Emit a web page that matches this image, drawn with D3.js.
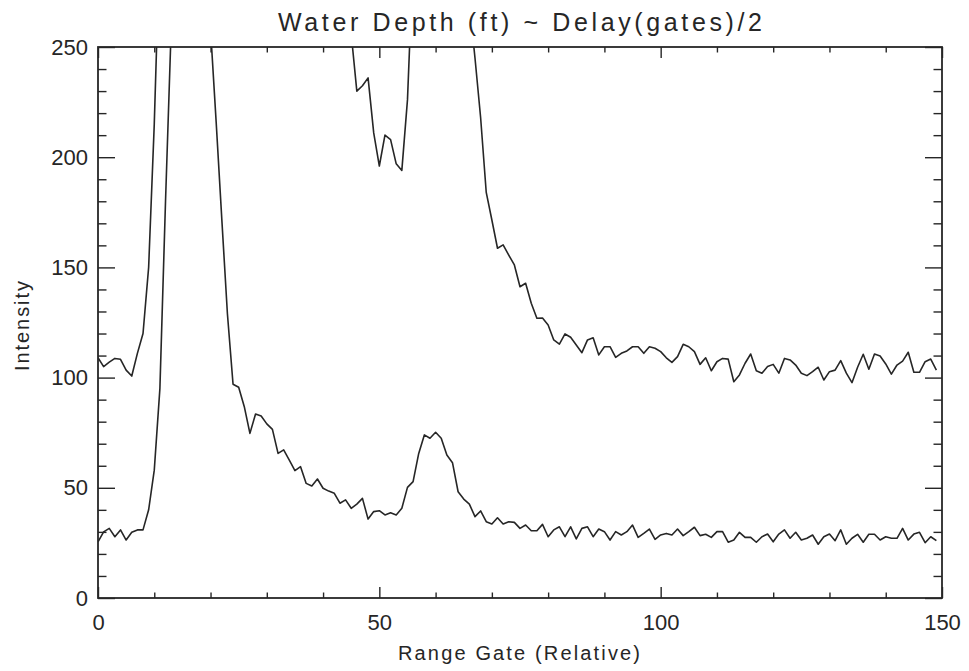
<!DOCTYPE html>
<html>
<head>
<meta charset="utf-8">
<script src="https://cdn.jsdelivr.net/npm/d3@7"></script>
<style>
  html, body { margin: 0; padding: 0; background: #fff; }
  svg { display: block; }
  text { font-family: "Liberation Sans", Arial, sans-serif; fill: #262626; }
</style>
</head>
<body>
<svg id="chart" width="969" height="671"></svg>
<script>
// ---- data (range gate index 0..149) ----
const gates = d3.range(0, 150);

// lower trace (intensity)
const lowerSeries = [
  25.5, 30, 31.6, 27.8, 30.9, 26.3, 29.8, 30.9, 30.9, 40,
  58, 95, 180, 258, 380, 560, 700, 720, 600, 420,
  258, 216, 172, 129, 97, 95.6, 86.8, 74.7, 83.5, 82.6,
  79, 76.5, 65.6, 67.2, 62.6, 57.8, 59.6, 52, 50.8, 54,
  49.8, 48.5, 47.5, 43, 44.5, 40.7, 42.6, 45.2, 35.8, 39.2,
  39.6, 37.7, 38.7, 37.7, 40.7, 50.2, 52.8, 65.6, 74, 72.5,
  75.2, 72.5, 64.9, 61.4, 48.2, 44.9, 42.6, 36.9, 39.5, 34.6,
  33.6, 36.4, 33.6, 34.6, 34.3, 31.6, 33.1, 30.5, 30.5, 33.4,
  27.8, 30.9, 32.3, 27.8, 32.3, 26.8, 31.6, 32.3, 27.8, 31.3,
  30.1, 26.3, 30.1, 28.6, 30.1, 33.1, 27.5, 29.3, 31.3, 26.6,
  28.6, 29.3, 28.6, 31.3, 28.3, 30.1, 32.1, 28.3, 28.9, 27.5,
  30.1, 30.1, 25.3, 26.3, 29.8, 27.5, 27.5, 25.3, 27.8, 29,
  25.5, 29, 30.9, 27.1, 29.8, 26.3, 27.1, 28.6, 24.4, 27.8,
  29, 26, 30.9, 24.4, 27.1, 28.9, 25.3, 28.9, 28.9, 26.3,
  27.8, 27.1, 27.1, 31.6, 26.3, 29, 29.8, 25.1, 27.8, 26
];

// upper trace (intensity)
const upperSeries = [
  109, 105, 107, 108.7, 108.3, 103.4, 100.7, 111, 120, 150,
  215, 300, 380, 520, 700, 850, 950, 1000, 980, 900,
  800, 700, 600, 520, 460, 420, 400, 380, 350, 340,
  330, 320, 305, 300, 290, 285, 280, 275, 272, 270,
  268, 266, 264, 262, 260, 256, 230, 232.4, 236, 211,
  196, 210, 208, 197, 194, 226, 290, 320, 350, 370,
  380, 375, 360, 340, 315, 295, 270, 245, 218, 184,
  171.5, 158.7, 160.2, 155.6, 151.1, 141.2, 142.8, 133.7, 126.9, 127,
  123.9, 117.1, 115.2, 119.8, 118.3, 114.8, 111.3, 117.1, 118.1, 110.3,
  114, 114, 109.2, 111, 112.1, 114, 114, 111, 114, 113.3,
  111.8, 109, 106.9, 109.5, 115.1, 114, 111.8, 106, 109, 103.1,
  107.2, 108.7, 108.4, 98.1, 101.2, 106.5, 110.7, 103.1, 102, 105,
  106, 102, 108.7, 108, 105.7, 102, 100.9, 102.7, 104.7, 98.9,
  102.7, 103.4, 107.7, 102, 97.7, 104.7, 110.6, 103.8, 110.7, 109.8,
  106.2, 101.6, 105.7, 107.5, 111.5, 102.4, 102.4, 107.2, 108.4, 103.4
];

const xMajorTicks = [0, 50, 100, 150];
const xMinorTicks = [10, 20, 30, 40, 60, 70, 80, 90, 110, 120, 130, 140];
const yMajorTicks = [0, 50, 100, 150, 200, 250];
const yMinorTicks = [10, 20, 30, 40, 60, 70, 80, 90, 110, 120, 130, 140, 160, 170, 180, 190, 210, 220, 230, 240];

const titleText = "Water Depth (ft) ~ Delay(gates)/2";
const xLabel = "Range Gate (Relative)";
const yLabel = "Intensity";

// ---- layout ----
const svg = d3.select("#chart");
const L = 98, R = 942, T = 47, B = 598;
const ink = "#262626";

const x = d3.scaleLinear().domain([0, 150]).range([L, R]);
const y = d3.scaleLinear().domain([0, 250]).range([B, T]);

// clip
svg.append("defs").append("clipPath").attr("id", "plotclip")
  .append("rect").attr("x", L).attr("y", T).attr("width", R - L).attr("height", B - T);

// lines
const line = d3.line().x((d, i) => x(gates[i])).y(d => y(d));
const g = svg.append("g").attr("clip-path", "url(#plotclip)");
[lowerSeries, upperSeries].forEach(s => {
  g.append("path").datum(s)
    .attr("d", line)
    .attr("fill", "none")
    .attr("stroke", ink)
    .attr("stroke-width", 1.6)
    .attr("stroke-linejoin", "round");
});

// axes helper
function styleAxis(sel) {
  sel.select(".domain").remove();
  sel.selectAll(".tick line").attr("stroke", ink).attr("stroke-width", 1.4);
  sel.selectAll(".tick text").attr("fill", ink).style("font-size", "22px")
    .style("font-family", "'Liberation Sans', Arial, sans-serif");
}

const xMaj = 11, xMin = 5.5, yMaj = 17, yMin = 8.5;

// bottom
svg.append("g").attr("transform", `translate(0,${B})`)
  .call(d3.axisBottom(x).tickValues(xMajorTicks).tickSize(-xMaj).tickPadding(16).tickFormat(d3.format("d")))
  .call(styleAxis);
svg.append("g").attr("transform", `translate(0,${B})`)
  .call(d3.axisBottom(x).tickValues(xMinorTicks).tickSize(-xMin).tickFormat(""))
  .call(styleAxis);
// top
svg.append("g").attr("transform", `translate(0,${T})`)
  .call(d3.axisTop(x).tickValues(xMajorTicks).tickSize(-xMaj).tickFormat(""))
  .call(styleAxis);
svg.append("g").attr("transform", `translate(0,${T})`)
  .call(d3.axisTop(x).tickValues(xMinorTicks).tickSize(-xMin).tickFormat(""))
  .call(styleAxis);
// left
svg.append("g").attr("transform", `translate(${L},0)`)
  .call(d3.axisLeft(y).tickValues(yMajorTicks).tickSize(-yMaj).tickPadding(10).tickFormat(d3.format("d")))
  .call(styleAxis);
svg.append("g").attr("transform", `translate(${L},0)`)
  .call(d3.axisLeft(y).tickValues(yMinorTicks).tickSize(-yMin).tickFormat(""))
  .call(styleAxis);
// right
svg.append("g").attr("transform", `translate(${R},0)`)
  .call(d3.axisRight(y).tickValues(yMajorTicks).tickSize(-yMaj).tickFormat(""))
  .call(styleAxis);
svg.append("g").attr("transform", `translate(${R},0)`)
  .call(d3.axisRight(y).tickValues(yMinorTicks).tickSize(-yMin).tickFormat(""))
  .call(styleAxis);

// frame
svg.append("rect").attr("x", L).attr("y", T).attr("width", R - L).attr("height", B - T)
  .attr("fill", "none").attr("stroke", ink).attr("stroke-width", 1.8);

// title
svg.append("text").attr("x", 520).attr("y", 31).attr("text-anchor", "middle")
  .style("font-size", "25px").attr("textLength", 484).attr("lengthAdjust", "spacing")
  .text(titleText);

// x label
svg.append("text").attr("x", 519).attr("y", 660).attr("text-anchor", "middle")
  .style("font-size", "20px").attr("textLength", 242).attr("lengthAdjust", "spacing")
  .text(xLabel);

// y label
svg.append("text").attr("transform", "translate(29,326) rotate(-90)").attr("text-anchor", "middle")
  .style("font-size", "20px").attr("textLength", 90).attr("lengthAdjust", "spacing")
  .text(yLabel);
</script>
</body>
</html>
